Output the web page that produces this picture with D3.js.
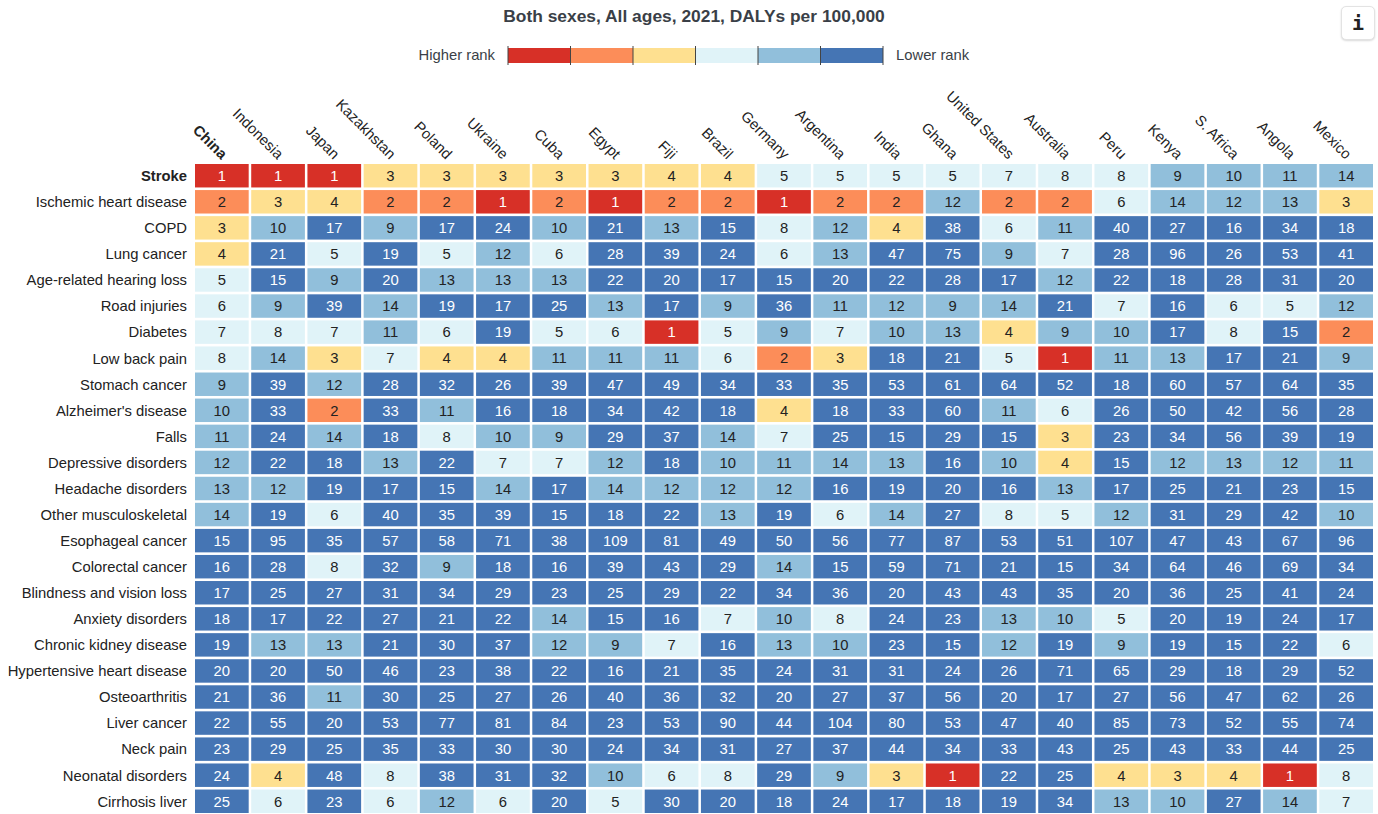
<!DOCTYPE html>
<html>
<head>
<meta charset="utf-8">
<script src="https://cdn.jsdelivr.net/npm/d3@7"></script>
<style>
  html, body { margin: 0; padding: 0; background: #fff; overflow: hidden; }
  svg { display: block; font-family: "Liberation Sans", Arial, sans-serif; }
  #info {
    position: absolute; left: 1341px; top: 6px; width: 32px; height: 32px;
    border: 1px solid #e3e3e3; border-radius: 5px; background: #fff;
    box-shadow: 0 1px 2px rgba(0,0,0,.15);
    font: bold 20px/32px "DejaVu Sans Mono", monospace; text-align: center; color: #222;
  }
</style>
</head>
<body>
<svg id="chart" width="1378" height="814"></svg>
<div id="info">i</div>
<script>
const countries = ["China", "Indonesia", "Japan", "Kazakhstan", "Poland", "Ukraine", "Cuba", "Egypt", "Fiji", "Brazil", "Germany", "Argentina", "India", "Ghana", "United States", "Australia", "Peru", "Kenya", "S. Africa", "Angola", "Mexico"];

const causes = ["Stroke", "Ischemic heart disease", "COPD", "Lung cancer", "Age-related hearing loss", "Road injuries", "Diabetes", "Low back pain", "Stomach cancer", "Alzheimer's disease", "Falls", "Depressive disorders", "Headache disorders", "Other musculoskeletal", "Esophageal cancer", "Colorectal cancer", "Blindness and vision loss", "Anxiety disorders", "Chronic kidney disease", "Hypertensive heart disease", "Osteoarthritis", "Liver cancer", "Neck pain", "Neonatal disorders", "Cirrhosis liver"];

// one row per cause, same order as countries
const ranks = [
  [1,1,1,3,3,3,3,3,4,4,5,5,5,5,7,8,8,9,10,11,14],
  [2,3,4,2,2,1,2,1,2,2,1,2,2,12,2,2,6,14,12,13,3],
  [3,10,17,9,17,24,10,21,13,15,8,12,4,38,6,11,40,27,16,34,18],
  [4,21,5,19,5,12,6,28,39,24,6,13,47,75,9,7,28,96,26,53,41],
  [5,15,9,20,13,13,13,22,20,17,15,20,22,28,17,12,22,18,28,31,20],
  [6,9,39,14,19,17,25,13,17,9,36,11,12,9,14,21,7,16,6,5,12],
  [7,8,7,11,6,19,5,6,1,5,9,7,10,13,4,9,10,17,8,15,2],
  [8,14,3,7,4,4,11,11,11,6,2,3,18,21,5,1,11,13,17,21,9],
  [9,39,12,28,32,26,39,47,49,34,33,35,53,61,64,52,18,60,57,64,35],
  [10,33,2,33,11,16,18,34,42,18,4,18,33,60,11,6,26,50,42,56,28],
  [11,24,14,18,8,10,9,29,37,14,7,25,15,29,15,3,23,34,56,39,19],
  [12,22,18,13,22,7,7,12,18,10,11,14,13,16,10,4,15,12,13,12,11],
  [13,12,19,17,15,14,17,14,12,12,12,16,19,20,16,13,17,25,21,23,15],
  [14,19,6,40,35,39,15,18,22,13,19,6,14,27,8,5,12,31,29,42,10],
  [15,95,35,57,58,71,38,109,81,49,50,56,77,87,53,51,107,47,43,67,96],
  [16,28,8,32,9,18,16,39,43,29,14,15,59,71,21,15,34,64,46,69,34],
  [17,25,27,31,34,29,23,25,29,22,34,36,20,43,43,35,20,36,25,41,24],
  [18,17,22,27,21,22,14,15,16,7,10,8,24,23,13,10,5,20,19,24,17],
  [19,13,13,21,30,37,12,9,7,16,13,10,23,15,12,19,9,19,15,22,6],
  [20,20,50,46,23,38,22,16,21,35,24,31,31,24,26,71,65,29,18,29,52],
  [21,36,11,30,25,27,26,40,36,32,20,27,37,56,20,17,27,56,47,62,26],
  [22,55,20,53,77,81,84,23,53,90,44,104,80,53,47,40,85,73,52,55,74],
  [23,29,25,35,33,30,30,24,34,31,27,37,44,34,33,43,25,43,33,44,25],
  [24,4,48,8,38,31,32,10,6,8,29,9,3,1,22,25,4,3,4,1,8],
  [25,6,23,6,12,6,20,5,30,20,18,24,17,18,19,34,13,10,27,14,7]
];

const rankBreaks = [2, 3, 5, 9, 15];
const rankColors = ["#d73027", "#fc8d59", "#fee090", "#e0f3f8", "#91bfdb", "#4575b4"];
const titleText = "Both sexes, All ages, 2021, DALYs per 100,000";

const svg = d3.select("#chart");

const x = d3.scaleBand().domain(countries).range([195, 1373]).paddingInner(0.045);
const y = d3.scaleBand().domain(causes).range([164, 813]).paddingInner(0.1);
const color = d3.scaleThreshold().domain(rankBreaks).range(rankColors);

// dark cells get white numbers
const numberColor = r => (r === 1 || r >= 15) ? "#fff" : "#222";

svg.append("text")
  .attr("x", 694)
  .attr("y", 22)
  .attr("text-anchor", "middle")
  .attr("font-size", 17.4)
  .attr("font-weight", 700)
  .attr("fill", "#3a3f47")
  .text(titleText);

// legend
const legendX = d3.scaleLinear().domain([0, rankColors.length]).range([508, 883]);
const legend = svg.append("g");

legend.selectAll("rect")
  .data(rankColors)
  .join("rect")
  .attr("x", (d, i) => legendX(i))
  .attr("y", 48)
  .attr("width", (d, i) => legendX(i + 1) - legendX(i))
  .attr("height", 15)
  .attr("fill", d => d);

legend.selectAll("line")
  .data(d3.range(rankColors.length + 1))
  .join("line")
  .attr("x1", d => legendX(d))
  .attr("x2", d => legendX(d))
  .attr("y1", 46)
  .attr("y2", 65)
  .attr("stroke", "#444")
  .attr("stroke-width", 1);

legend.append("text")
  .attr("x", 495).attr("y", 60)
  .attr("text-anchor", "end").attr("font-size", 14.8).attr("fill", "#3a3f47")
  .text("Higher rank");

legend.append("text")
  .attr("x", 896).attr("y", 60)
  .attr("font-size", 14.8).attr("fill", "#3a3f47")
  .text("Lower rank");

// country labels
svg.append("g").selectAll("text")
  .data(countries)
  .join("text")
  .attr("transform", d => `translate(${x(d) + 26},160) rotate(45)`)
  .attr("text-anchor", "end")
  .attr("font-size", 14.8)
  .attr("font-weight", (d, i) => i === 0 ? 700 : 400)
  .attr("fill", "#222")
  .text(d => d);

// cause labels
svg.append("g").selectAll("text")
  .data(causes)
  .join("text")
  .attr("x", 187)
  .attr("y", d => y(d) + y.bandwidth() / 2)
  .attr("dy", "0.36em")
  .attr("text-anchor", "end")
  .attr("font-size", 14.8)
  .attr("font-weight", (d, i) => i === 0 ? 700 : 400)
  .attr("fill", "#222")
  .text(d => d);

// cells
const cells = causes.flatMap((cause, i) =>
  countries.map((country, j) => ({ cause, country, rank: ranks[i][j] })));

const cell = svg.append("g").selectAll("g")
  .data(cells)
  .join("g")
  .attr("transform", d => `translate(${x(d.country)},${y(d.cause)})`);

cell.append("rect")
  .attr("width", x.bandwidth())
  .attr("height", y.bandwidth())
  .attr("fill", d => color(d.rank));

cell.append("text")
  .attr("x", x.bandwidth() / 2)
  .attr("y", y.bandwidth() / 2)
  .attr("dy", "0.36em")
  .attr("text-anchor", "middle")
  .attr("font-size", 14.8)
  .attr("fill", d => numberColor(d.rank))
  .text(d => d.rank);
</script>
</body>
</html>
